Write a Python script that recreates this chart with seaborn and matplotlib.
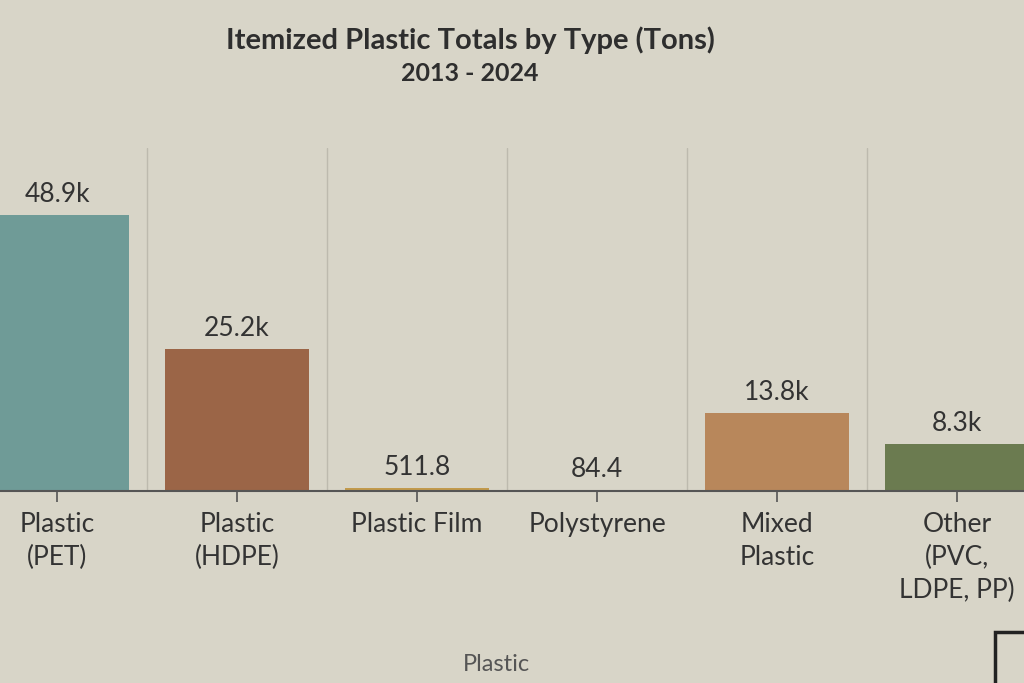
import numpy as np
import pandas as pd
import matplotlib.pyplot as plt
import matplotlib.patches as mpatches
import seaborn as sns

# data
categories = ["Plastic\n(PET)", "Plastic\n(HDPE)", "Plastic Film", "Polystyrene",
              "Mixed\nPlastic", "Other\n(PVC,\nLDPE, PP)"]
tons = [48900, 25200, 511.8, 84.4, 13800, 8300]
colors = ["#6f9b97", "#9b6547", "#c29a4c", "#a5a08e", "#b8875b", "#6b7b50"]

df = pd.DataFrame({"type": categories, "tons": tons})

BG = "#d8d5c8"

sns.set_theme(style="white")
plt.rcParams["font.family"] = ["Lato", "DejaVu Sans"]

fig = plt.figure(figsize=(10.24, 6.83), dpi=100, facecolor=BG)
ax = fig.add_axes([0.0, 0.281, 1.0, 0.502])
ax.set_facecolor(BG)

sns.barplot(data=df, x="type", y="tons", hue="type", palette=colors,
            width=0.8, legend=False, saturation=1, linewidth=0, ax=ax)

# value labels
labels = [f"{v/1000:.1f}k" if v >= 1000 else f"{v:.1f}" for v in tons]
for cont, lab in zip(ax.containers, labels):
    ax.bar_label(cont, labels=[lab], padding=6, fontsize=19, color="#333333")

# separators between categories
ax.set_xticks(np.arange(len(categories)) + 0.5, minor=True)
ax.grid(which="minor", axis="x", color="#bdbaae", linewidth=1.0)
ax.grid(which="major", visible=False)
ax.tick_params(axis="x", which="minor", length=0)
ax.tick_params(axis="x", which="major", length=8, width=1.2, color="#555555",
               labelsize=19, labelcolor="#333333", pad=7, bottom=True)
for t in ax.get_xticklabels():
    t.set_linespacing(1.4)
ax.set_yticks([])
ax.set_ylabel("")
ax.set_xlabel("Plastic", fontsize=17, color="#555555")
ax.xaxis.set_label_coords(0.485, -0.475)

ax.set_xlim(-0.317, 5.372)
ax.set_ylim(0, 60800)

for s in ["top", "left", "right"]:
    ax.spines[s].set_visible(False)
ax.spines["bottom"].set_color("#555555")
ax.spines["bottom"].set_linewidth(1.5)

fig.text(0.459, 0.941, "Itemized Plastic Totals by Type (Tons)", ha="center", va="center",
         fontsize=21, fontweight="bold", color="#2e2e2e")
fig.text(0.459, 0.892, "2013 - 2024", ha="center", va="center",
         fontsize=18, fontweight="bold", color="#2e2e2e")

# box in the lower right corner
fig.patches.append(mpatches.Rectangle((0.972, -0.02), 0.1, 0.095, transform=fig.transFigure,
                                      fill=False, edgecolor="#222222", linewidth=2.5))

fig.savefig("out.png", dpi=100, facecolor=BG)
